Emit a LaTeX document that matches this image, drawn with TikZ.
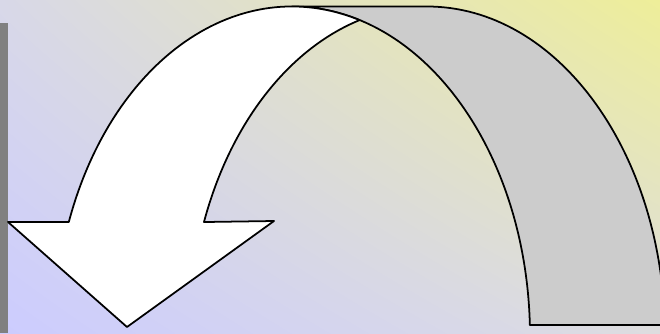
\documentclass[tikz,border=0pt]{standalone}
\usetikzlibrary{calc,shadings}
\definecolor{bgblue}{HTML}{CCCCFF}
\definecolor{bgyellow}{HTML}{EEEE99}
\definecolor{bgtopleft}{HTML}{D8D8E8}
\definecolor{bgbotright}{HTML}{DDDDDF}
\definecolor{backgray}{HTML}{CCCCCC}
\definecolor{bargray}{HTML}{808080}
\begin{document}
\begin{tikzpicture}[line join=round,
  ribbon/.style={draw=black,line width=1pt},
  ell/.style={x radius=4.76,y radius=6.6}]
  \useasboundingbox (0,0) rectangle (13.2,6.66);
  \clip (0,0) rectangle (13.2,6.66);
  \shade[lower left=bgblue,upper right=bgyellow,upper left=bgtopleft,lower right=bgbotright]
    (0,0) rectangle (13.2,6.66);
  \fill[bargray] (0,0) rectangle (0.16,6.2);
  \coordinate (A) at (5.84,-0.07);
  \coordinate (B) at (8.54,-0.07);
  % back face of the ribbon
  \draw[ribbon,fill=backgray] ($(A)+(90:4.76 and 6.6)$) -- ($(B)+(90:4.76 and 6.6)$)
    arc[start angle=90,end angle=2,ell]
    -- ($(A)+(2:4.76 and 6.6)$)
    arc[start angle=2,end angle=90,ell] -- cycle;
  % front face with the head
  \coordinate (HL) at (0.16,2.22);
  \coordinate (HR) at (5.48,2.24);
  \coordinate (HB) at (2.54,0.12);
  \draw[ribbon,fill=white] ($(A)+(159.7:4.76 and 6.6)$)
    arc[start angle=159.7,end angle=73.5,ell]
    arc[start angle=106.5,end angle=159.7,ell]
    -- (HR) -- (HB) -- (HL) -- cycle;
\end{tikzpicture}
\end{document}
